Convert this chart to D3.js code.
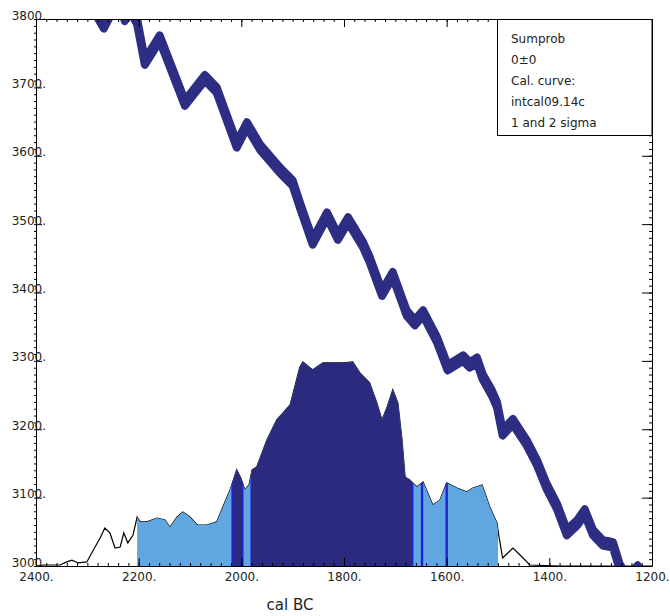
<!DOCTYPE html>
<html>
<head>
<meta charset="utf-8">
<script src="https://cdn.jsdelivr.net/npm/d3@7"></script>
<style>
	body { margin: 0; background: #ffffff; }
	text { font-family: "DejaVu Sans", sans-serif; }
</style>
</head>
<body>
<div id="div_id_main"></div>
<script>

// ---- calibration curve (cal BC, 14C BP) ------------------------------
const g_vCalYears = [2300, 2291, 2268, 2252, 2236, 2227, 2217, 2203, 2188, 2159,
					 2110, 2071, 2048, 2009, 1989, 1964, 1925, 1900, 1886, 1861,
					 1833, 1812, 1792, 1763, 1750, 1726, 1705, 1678, 1662, 1646,
					 1619, 1598, 1568, 1555, 1541, 1530, 1512, 1502, 1491, 1471,
					 1444, 1424, 1405, 1385, 1366, 1346, 1331, 1315, 1296, 1276,
					 1263, 1247, 1228, 1208, 1190];
const g_vCalBP    = [3835, 3820, 3790, 3813, 3822, 3801, 3816, 3796, 3737, 3772,
					 3677, 3714, 3696, 3616, 3645, 3613, 3579, 3560, 3528, 3474,
					 3513, 3481, 3506, 3470, 3448, 3399, 3426, 3370, 3356, 3370,
					 3331, 3290, 3304, 3294, 3301, 3277, 3253, 3236, 3195, 3211,
					 3180, 3151, 3116, 3087, 3049, 3063, 3079, 3049, 3034, 3031,
					 2999, 2980, 2997, 2973, 2960];
const CAL_ERR = 4;

// ---- summed probability (relative) ------------------------------------
const g_vProbYears = [2400, 2386, 2353, 2340, 2330, 2318, 2301, 2285, 2275, 2266,
					  2256, 2246, 2236, 2229, 2221, 2211, 2203, 2197, 2184, 2164,
					  2149, 2139, 2125, 2114, 2100, 2086, 2067, 2048, 2036, 2022,
					  2009, 2001, 1993, 1985, 1979, 1970, 1950, 1931, 1905, 1886,
					  1880, 1861, 1841, 1822, 1802, 1783, 1769, 1750, 1736, 1726,
					  1716, 1705, 1695, 1687, 1681, 1672, 1658, 1646, 1627, 1613,
					  1600, 1580, 1561, 1549, 1531, 1516, 1502, 1498, 1491, 1471,
					  1457, 1438, 1380, 1200];
const g_vProbValues = [0, 0.5, 0.5, 2.0, 2.9, 1.5, 2.0, 9.3, 13.7, 18.6,
					   16.2, 8.8, 9.3, 16.2, 11.3, 15.2, 24.0, 21.6, 21.6, 23.5,
					   22.5, 19.1, 24.0, 26.5, 24.0, 20.1, 20.1, 21.6, 28.9, 37.3,
					   47.1, 43.1, 37.3, 39.7, 47.1, 48.5, 61.8, 71.6, 78.9, 97.5,
					   100, 96.1, 99.5, 99.5, 99.5, 100, 94.6, 89.7, 79.9, 71.6,
					   77.9, 86.3, 79.9, 61.8, 43.6, 42.2, 38.7, 41.2, 29.9, 32.4,
					   40.7, 38.2, 36.3, 38.2, 39.7, 28.9, 21.1, 14.2, 3.9, 8.8,
					   5.4, 0.5, 0, 0];

const g_vSigma2Ranges = [[2203, 1500]];
const g_vSigma1Ranges = [[2018, 1997], [1981, 1666], [1649, 1647], [1601, 1599]];

const g_vXTicks = [2400, 2200, 2000, 1800, 1600, 1400, 1200];
const g_vYTicks = [3000, 3100, 3200, 3300, 3400, 3500, 3600, 3700, 3800];
const g_vLegend = ["Sumprob", "0\u00b10", "Cal. curve:", "intcal09.14c", "1 and 2 sigma"];
const X_LABEL = "cal BC";

// ---- layout -------------------------------------------------------------
const WIDTH = 670, HEIGHT = 616;
const PLOT_L = 36, PLOT_R = 652, PLOT_T = 19, PLOT_B = 566;
const PROB_TOP = 268;

const COLOR_CURVE = "#2e2d84";
const COLOR_SIGMA1 = "#2b2a7e";
const COLOR_SIGMA2 = "#60a6e0";
const COLOR_EDGE = "#1f1fd8";

let fScale_Year = d3.scaleLinear().domain([2400, 1200]).range([PLOT_L, PLOT_R]);
let fScale_BP = d3.scaleLinear().domain([3000, 3800]).range([PLOT_B, PLOT_T]);
let fScale_Prob = d3.scaleLinear().domain([0, PROB_TOP]).range([PLOT_B, PLOT_T]);

let dsCal = g_vCalYears.map(function(y, i) { return { year: y, bp: g_vCalBP[i] }; });
let dsProb = g_vProbYears.map(function(y, i) { return { year: y, p: g_vProbValues[i] }; });

let svgMain = d3.select("#div_id_main")
				.append("svg")
					.attr("width", WIDTH)
					.attr("height", HEIGHT);

let defs = svgMain.append("defs");

defs.append("clipPath").attr("id", "clip_plot")
	.append("rect")
		.attr("x", PLOT_L).attr("y", PLOT_T)
		.attr("width", PLOT_R - PLOT_L).attr("height", PLOT_B - PLOT_T);

defs.append("clipPath").attr("id", "clip_sigma2")
	.selectAll("rect").data(g_vSigma2Ranges).enter()
	.append("rect")
		.attr("x", function(r) { return fScale_Year(r[0]); })
		.attr("y", PLOT_T)
		.attr("width", function(r) { return fScale_Year(r[1]) - fScale_Year(r[0]); })
		.attr("height", PLOT_B - PLOT_T);

defs.append("clipPath").attr("id", "clip_sigma1")
	.selectAll("rect").data(g_vSigma1Ranges).enter()
	.append("rect")
		.attr("x", function(r) { return fScale_Year(r[0]); })
		.attr("y", PLOT_T)
		.attr("width", function(r) { return fScale_Year(r[1]) - fScale_Year(r[0]); })
		.attr("height", PLOT_B - PLOT_T);

let areaProb = d3.area()
					.x(function(d) { return fScale_Year(d.year); })
					.y0(fScale_Prob(0))
					.y1(function(d) { return fScale_Prob(d.p); });

let lineProb = d3.line()
					.x(function(d) { return fScale_Year(d.year); })
					.y(function(d) { return fScale_Prob(d.p); });

defs.append("clipPath").attr("id", "clip_prob")
	.append("path").attr("d", areaProb(dsProb));

// ---- distribution -----------------------------------------------------
let gProb = svgMain.append("g").attr("clip-path", "url(#clip_plot)");

gProb.append("path")
		.attr("d", lineProb(dsProb))
		.attr("fill", "none")
		.attr("stroke", "#000000")
		.attr("stroke-width", 1.2);

gProb.append("path")
		.attr("d", areaProb(dsProb))
		.attr("fill", COLOR_SIGMA2)
		.attr("clip-path", "url(#clip_sigma2)");

gProb.append("path")
		.attr("d", areaProb(dsProb))
		.attr("fill", COLOR_SIGMA1)
		.attr("clip-path", "url(#clip_sigma1)");

let vEdges = [];
g_vSigma1Ranges.forEach(function(r) { vEdges.push(r[0], r[1]); });

gProb.append("g").attr("clip-path", "url(#clip_prob)")
	.selectAll("line").data(vEdges).enter()
	.append("line")
		.attr("x1", function(d) { return fScale_Year(d); })
		.attr("x2", function(d) { return fScale_Year(d); })
		.attr("y1", PLOT_B)
		.attr("y2", PLOT_T)
		.attr("stroke", COLOR_EDGE)
		.attr("stroke-width", 1.3);

// ---- calibration curve ---------------------------------------------------
let areaCal = d3.area()
				.x(function(d) { return fScale_Year(d.year); })
				.y0(function(d) { return fScale_BP(d.bp - CAL_ERR); })
				.y1(function(d) { return fScale_BP(d.bp + CAL_ERR); });

svgMain.append("g").attr("clip-path", "url(#clip_plot)")
	.append("path")
		.attr("d", areaCal(dsCal))
		.attr("fill", COLOR_CURVE)
		.attr("stroke", COLOR_CURVE)
		.attr("stroke-width", 8)
		.attr("stroke-linejoin", "round");

// ---- axes ---------------------------------------------------------------
let vXMinor = d3.range(1200, 2401, 20);
let vYMinor = d3.range(3000, 3801, 10);

function funcStyleAxis(g) {
	g.attr("font-family", null).attr("font-size", null);
	g.selectAll("line").attr("stroke", "#000000");
	g.select(".domain").attr("stroke", "#000000");
}

function funcMinor(g) {
	g.select(".domain").remove();
	g.selectAll("line").attr("stroke", "#000000");
}

// bottom
svgMain.append("g").attr("transform", "translate(0," + PLOT_B + ")")
	.call(d3.axisBottom(fScale_Year).tickValues(vXMinor).tickSize(-3).tickFormat(""))
	.call(funcMinor);
let gBottom = svgMain.append("g").attr("transform", "translate(0," + PLOT_B + ")")
	.call(d3.axisBottom(fScale_Year).tickValues(g_vXTicks).tickSize(-8).tickSizeOuter(0)
			.tickPadding(6).tickFormat(function(d) { return d + "."; }))
	.call(funcStyleAxis);
gBottom.selectAll("text").attr("font-size", "12px").attr("fill", "#222");

// top
svgMain.append("g").attr("transform", "translate(0," + PLOT_T + ")")
	.call(d3.axisTop(fScale_Year).tickValues(vXMinor).tickSize(-3).tickFormat(""))
	.call(funcMinor);
svgMain.append("g").attr("transform", "translate(0," + PLOT_T + ")")
	.call(d3.axisTop(fScale_Year).tickValues(g_vXTicks).tickSize(-8).tickSizeOuter(0).tickFormat(""))
	.call(funcStyleAxis);

// left
svgMain.append("g").attr("transform", "translate(" + PLOT_L + ",0)")
	.call(d3.axisLeft(fScale_BP).tickValues(vYMinor).tickSize(2).tickFormat(""))
	.call(funcMinor);
let gLeft = svgMain.append("g").attr("transform", "translate(" + PLOT_L + ",0)")
	.call(d3.axisLeft(fScale_BP).tickValues(g_vYTicks).tickSize(-6).tickSizeOuter(0)
			.tickFormat(function(d) { return d + "."; }))
	.call(funcStyleAxis);
gLeft.selectAll("text")
		.attr("x", 10)
		.attr("dy", "0em")
		.attr("font-size", "12px")
		.attr("fill", "#222");

// right
svgMain.append("g").attr("transform", "translate(" + PLOT_R + ",0)")
	.call(d3.axisRight(fScale_BP).tickValues(vYMinor).tickSize(-3).tickFormat(""))
	.call(funcMinor);
svgMain.append("g").attr("transform", "translate(" + PLOT_R + ",0)")
	.call(d3.axisRight(fScale_BP).tickValues(g_vYTicks).tickSize(-10).tickSizeOuter(0).tickFormat(""))
	.call(funcStyleAxis);

svgMain.append("text")
		.attr("x", (PLOT_L + PLOT_R) / 2 - 54)
		.attr("y", 610)
		.attr("text-anchor", "middle")
		.attr("font-size", "15px")
		.attr("fill", "#222")
		.text(X_LABEL);

// ---- legend -----------------------------------------------------------
let gLegend = svgMain.append("g");

gLegend.append("rect")
		.attr("x", 497.5)
		.attr("y", PLOT_T + 0.5)
		.attr("width", PLOT_R - 497.5)
		.attr("height", 116)
		.attr("fill", "#ffffff")
		.attr("stroke", "#000000")
		.attr("stroke-width", 1);

gLegend.selectAll("text.text_class_legend")
	.data(g_vLegend)
	.enter()
		.append("text")
			.attr("class", "text_class_legend")
			.attr("x", 511)
			.attr("y", function(d, i) { return 43 + i * 21; })
			.attr("font-size", "12px")
			.attr("fill", "#222")
			.text(function(d) { return d; });

</script>
</body>
</html>
